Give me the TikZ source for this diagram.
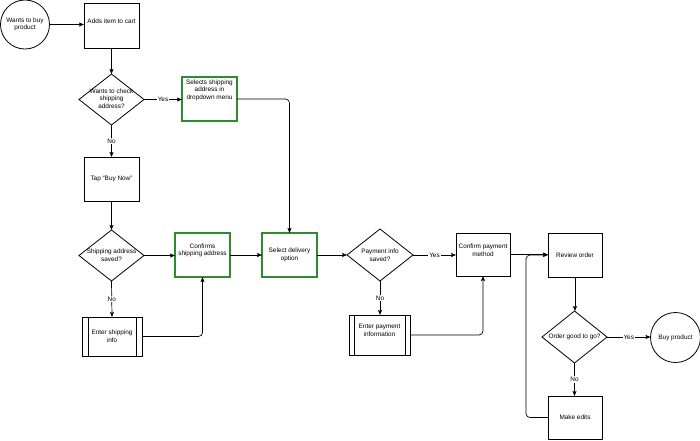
\documentclass[tikz,border=0pt]{standalone}
\usepackage{fontspec}
\setmainfont{Liberation Sans}
\usetikzlibrary{arrows.meta,shapes.geometric}
\definecolor{boxgreen}{RGB}{46,140,46}
\tikzset{
  base/.style={draw=black, line width=0.8pt, inner sep=0pt, outer sep=0pt},
  boxnode/.style={base, rectangle, minimum width=#1},
  gbox/.style={draw=boxgreen, line width=1.3pt, rectangle, inner sep=0pt, outer sep=0pt},
  decision/.style={base, diamond, aspect=1.27},
  endpoint/.style={base, circle},
  lbl/.style={align=center, inner sep=0pt, font=\fontsize{6.4}{7.6}\selectfont},
  conn/.style={draw=black, line width=0.7pt, -{Stealth[length=5pt,width=4pt,inset=1pt]}},
  elbow/.style={conn, rounded corners=4pt},
  edgelbl/.style={fill=white, inner sep=1pt, font=\fontsize{6.4}{7.6}\selectfont}
}
\begin{document}
\begin{tikzpicture}[x=1pt,y=-1pt]
\useasboundingbox (0,0) rectangle (700,440);
% nodes
\node[endpoint, minimum size=49pt, label={[lbl]center:Wants to buy\\product}] (start) at (25,24.5) {};
\node[base, minimum width=55pt, minimum height=45pt, label={[lbl,yshift=4.5pt]center:Adds item to cart}] (cart) at (111.5,25.5) {};
\node[decision, minimum width=65pt, minimum height=51pt, label={[lbl,yshift=1pt]center:Wants to check\\shipping\\address?}] (check) at (111.5,99.5) {};
\node[gbox, minimum width=55pt, minimum height=44pt, label={[lbl,yshift=9pt]center:Selects shipping\\address in\\dropdown menu}] (sel) at (209.5,99) {};
\node[base, minimum width=55pt, minimum height=44pt, label={[lbl]center:Tap ``Buy Now''}] (buynow) at (111.5,179) {};
\node[decision, minimum width=65pt, minimum height=51pt, label={[lbl]center:Shipping address\\saved?}] (saved) at (111.5,255.5) {};
\node[gbox, minimum width=55pt, minimum height=44pt, label={[lbl,yshift=4.5pt]center:Confirms\\shipping address}] (confirm) at (202.5,255) {};
\node[base, minimum width=60pt, minimum height=39pt, label={[lbl]center:Enter shipping\\info}] (enter) at (112,336.5) {};
\draw[line width=0.8pt] ([xshift=6pt]enter.north west) -- ([xshift=6pt]enter.south west)
  ([xshift=-6pt]enter.north east) -- ([xshift=-6pt]enter.south east);
\node[gbox, minimum width=55pt, minimum height=44pt, label={[lbl]center:Select delivery\\option}] (delivery) at (289.5,255) {};
\node[decision, minimum width=66pt, minimum height=52pt, label={[lbl]center:Payment info\\saved?}] (pay) at (380,255) {};
\node[base, minimum width=54pt, minimum height=43pt, label={[lbl,yshift=4pt]center:Confirm payment\\method}] (cpay) at (483,254.5) {};
\node[base, minimum width=61pt, minimum height=40pt, label={[lbl,yshift=4.5pt]center:Enter payment\\information}] (epay) at (379.5,335) {};
\draw[line width=0.8pt] ([xshift=5pt]epay.north west) -- ([xshift=5pt]epay.south west)
  ([xshift=-5pt]epay.north east) -- ([xshift=-5pt]epay.south east);
\node[base, minimum width=54pt, minimum height=44pt, label={[lbl]center:Review order}] (review) at (575,255) {};
\node[decision, minimum width=65pt, minimum height=52pt, label={[lbl]center:Order good to go?}] (good) at (574.5,337) {};
\node[endpoint, minimum size=50pt, label={[lbl]center:Buy product}] (buy) at (675.5,337.5) {};
\node[base, minimum width=54pt, minimum height=43pt, label={[lbl]center:Make edits}] (edits) at (575,417.5) {};
% connectors
\draw[conn] (start.east) -- (start.east -| cart.west);
\draw[conn] (cart.south) -- (check.north);
\draw[conn] (check.east) -- node[edgelbl]{Yes} (check.east -| sel.west);
\draw[elbow] (sel.east) -| (delivery.north);
\draw[conn] (check.south) -- node[edgelbl]{No} (buynow.north);
\draw[conn] (buynow.south) -- (saved.north);
\draw[conn] (saved.east) -- (saved.east -| confirm.west);
\draw[conn] (saved.south) -- node[edgelbl]{No} (enter.north);
\draw[elbow] (enter.east) -| (confirm.south);
\draw[conn] (confirm.east) -- (delivery.west);
\draw[conn] (delivery.east) -- (pay.west);
\draw[conn] (pay.east) -- node[edgelbl]{Yes} (pay.east -| cpay.west);
\draw[conn] (pay.south) -- node[edgelbl]{No} (pay.south |- epay.north);
\draw[elbow] (epay.east) -| (cpay.south);
\draw[conn] (cpay.east) -- (cpay.east -| review.west);
\draw[elbow] (edits.west) -- ++(-22,0) |- (review.west);
\draw[conn] (review.south) -- (review.south |- good.north);
\draw[conn] (good.east) -- node[edgelbl]{Yes} (good.east -| buy.west);
\draw[conn] (good.south) -- node[edgelbl]{No} (good.south |- edits.north);
\end{tikzpicture}
\end{document}
